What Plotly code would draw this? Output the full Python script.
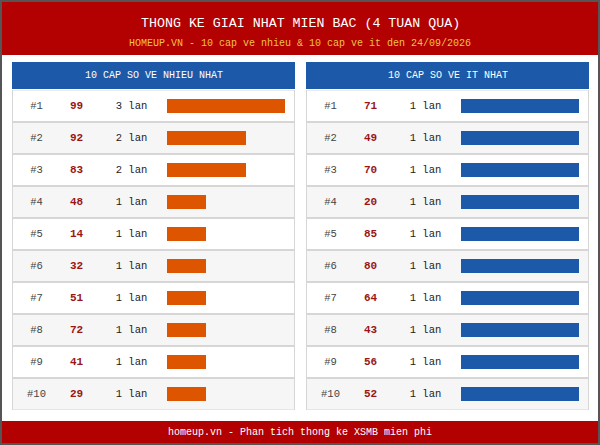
import plotly.graph_objects as go

# ---------------- data ----------------
title = "THONG KE GIAI NHAT MIEN BAC (4 TUAN QUA)"
subtitle = "HOMEUP.VN - 10 cap ve nhieu & 10 cap ve it den 24/09/2026"
footer = "homeup.vn - Phan tich thong ke XSMB mien phi"

left_title = "10 CAP SO VE NHIEU NHAT"
left_ranks = ["#1", "#2", "#3", "#4", "#5", "#6", "#7", "#8", "#9", "#10"]
left_numbers = ["99", "92", "83", "48", "14", "32", "51", "72", "41", "29"]
left_counts = [3, 2, 2, 1, 1, 1, 1, 1, 1, 1]

right_title = "10 CAP SO VE IT NHAT"
right_ranks = ["#1", "#2", "#3", "#4", "#5", "#6", "#7", "#8", "#9", "#10"]
right_numbers = ["71", "49", "70", "20", "85", "80", "64", "43", "56", "52"]
right_counts = [1, 1, 1, 1, 1, 1, 1, 1, 1, 1]

# ---------------- layout constants (pixels) ----------------
W, H = 600, 445
FONT = "Liberation Mono"
RED = "#b30000"
BLUE = "#1c5aa9"
ORANGE = "#de5500"
NUMRED = "#9a1515"
GOLD = "#f2c14a"

ROW_TOP, ROW_H, NROWS = 90, 32, 10
HDR_TOP, HDR_BOT = 62, 89
PANEL_W = 283
panels = [
    dict(x0=12, bar0=167, title=left_title, ranks=left_ranks, nums=left_numbers,
         counts=left_counts, color=ORANGE, ax="x", ay="y"),
    dict(x0=306, bar0=461, title=right_title, ranks=right_ranks, nums=right_numbers,
         counts=right_counts, color=BLUE, ax="x2", ay="y2"),
]
BAR_LEN = 118
RANK_OFF, NUM_OFF, LAN_OFF = 24.5, 64.5, 119.5  # text centre offsets from panel left


def px_x(p):
    return p / W


def px_y(p):
    return 1 - p / H


fig = go.Figure()
shapes = []
annotations = []

# header / footer bands
shapes.append(dict(type="rect", xref="paper", yref="paper", x0=0, x1=1,
                   y0=px_y(55), y1=1, fillcolor=RED, line_width=0, layer="below"))
shapes.append(dict(type="rect", xref="paper", yref="paper", x0=0, x1=1,
                   y0=0, y1=px_y(421), fillcolor=RED, line_width=0, layer="below"))

annotations.append(dict(text=title, xref="paper", yref="paper", x=0.5, y=px_y(23.5),
                        showarrow=False, font=dict(family=FONT, size=13.3, color="white"),
                        xanchor="center", yanchor="middle"))
annotations.append(dict(text=subtitle, xref="paper", yref="paper", x=0.5, y=px_y(43),
                        showarrow=False, font=dict(family=FONT, size=10, color=GOLD),
                        xanchor="center", yanchor="middle"))
annotations.append(dict(text=footer, xref="paper", yref="paper", x=0.5, y=px_y(432.5),
                        showarrow=False, font=dict(family=FONT, size=10, color="white"),
                        xanchor="center", yanchor="middle"))

layout_axes = {}
for i, p in enumerate(panels):
    x0 = p["x0"]
    x1 = x0 + PANEL_W
    maxc = max(p["counts"])
    ppu = BAR_LEN / maxc  # pixels per count unit

    def to_x(px, bar0=p["bar0"], ppu=ppu):
        return (px - bar0) / ppu

    # panel header
    shapes.append(dict(type="rect", xref="paper", yref="paper", x0=px_x(x0), x1=px_x(x1),
                       y0=px_y(HDR_BOT), y1=px_y(HDR_TOP), fillcolor=BLUE, line_width=0,
                       layer="below"))
    annotations.append(dict(text=p["title"], xref="paper", yref="paper",
                            x=px_x((x0 + x1) / 2), y=px_y((HDR_TOP + HDR_BOT) / 2),
                            showarrow=False, font=dict(family=FONT, size=10, color="white"),
                            xanchor="center", yanchor="middle"))

    xa = "xaxis" if i == 0 else "xaxis2"
    ya = "yaxis" if i == 0 else "yaxis2"
    # row backgrounds
    for r in range(NROWS):
        shapes.append(dict(type="rect", xref=p["ax"], yref=p["ay"],
                           x0=to_x(x0 + 0.5), x1=to_x(x1 - 0.5), y0=r - 0.5, y1=r + 0.5,
                           fillcolor="#ffffff" if r % 2 == 0 else "#f6f6f6",
                           line=dict(color="#d6d6d6", width=1), layer="below"))
    for r in range(1, NROWS):
        shapes.append(dict(type="line", xref=p["ax"], yref=p["ay"],
                           x0=to_x(x0 + 0.5), x1=to_x(x1 - 0.5), y0=r - 0.5, y1=r - 0.5,
                           line=dict(color="#d6d6d6", width=2), layer="below"))

    rows = list(range(NROWS))
    fig.add_trace(go.Bar(
        x=p["counts"], y=rows, orientation="h", width=14 / ROW_H,
        marker=dict(color=p["color"], line_width=0), base=0,
        xaxis=p["ax"], yaxis=p["ay"], hoverinfo="skip", showlegend=False))
    fig.add_trace(go.Scatter(
        x=[to_x(x0 + RANK_OFF)] * NROWS, y=rows, mode="text", text=p["ranks"],
        textfont=dict(family=FONT, size=10.5, color="#444444"), textposition="middle center",
        xaxis=p["ax"], yaxis=p["ay"], hoverinfo="skip", showlegend=False, cliponaxis=False))
    fig.add_trace(go.Scatter(
        x=[to_x(x0 + NUM_OFF)] * NROWS, y=rows, mode="text",
        text=["<b>%s</b>" % n for n in p["nums"]],
        textfont=dict(family=FONT, size=11, color=NUMRED), textposition="middle center",
        xaxis=p["ax"], yaxis=p["ay"], hoverinfo="skip", showlegend=False, cliponaxis=False))
    fig.add_trace(go.Scatter(
        x=[to_x(x0 + LAN_OFF)] * NROWS, y=rows, mode="text",
        text=["%d lan" % c for c in p["counts"]],
        textfont=dict(family=FONT, size=10.5, color="#222222"), textposition="middle center",
        xaxis=p["ax"], yaxis=p["ay"], hoverinfo="skip", showlegend=False, cliponaxis=False))

    layout_axes[xa] = dict(domain=[px_x(x0), px_x(x1)], range=[to_x(x0), to_x(x1)],
                           visible=False, fixedrange=True)
    layout_axes[ya] = dict(domain=[px_y(ROW_TOP + ROW_H * NROWS), px_y(ROW_TOP)],
                           range=[NROWS - 0.5, -0.5], visible=False, fixedrange=True,
                           anchor=p["ax"])
    if i == 1:
        layout_axes[xa]["anchor"] = "y2"

# outer border
shapes.append(dict(type="rect", xref="paper", yref="paper", x0=0, x1=1, y0=0, y1=1,
                   line=dict(color="#555555", width=4), fillcolor="rgba(0,0,0,0)",
                   layer="above"))

fig.update_layout(
    width=W, height=H, autosize=False,
    margin=dict(l=0, r=0, t=0, b=0, pad=0),
    paper_bgcolor="white", plot_bgcolor="rgba(0,0,0,0)",
    shapes=shapes, annotations=annotations, bargap=0,
    **layout_axes,
)

fig.write_html("out.html", config={"displayModeBar": False},
               post_script="document.body.style.margin='0';document.body.style.padding='0';")
